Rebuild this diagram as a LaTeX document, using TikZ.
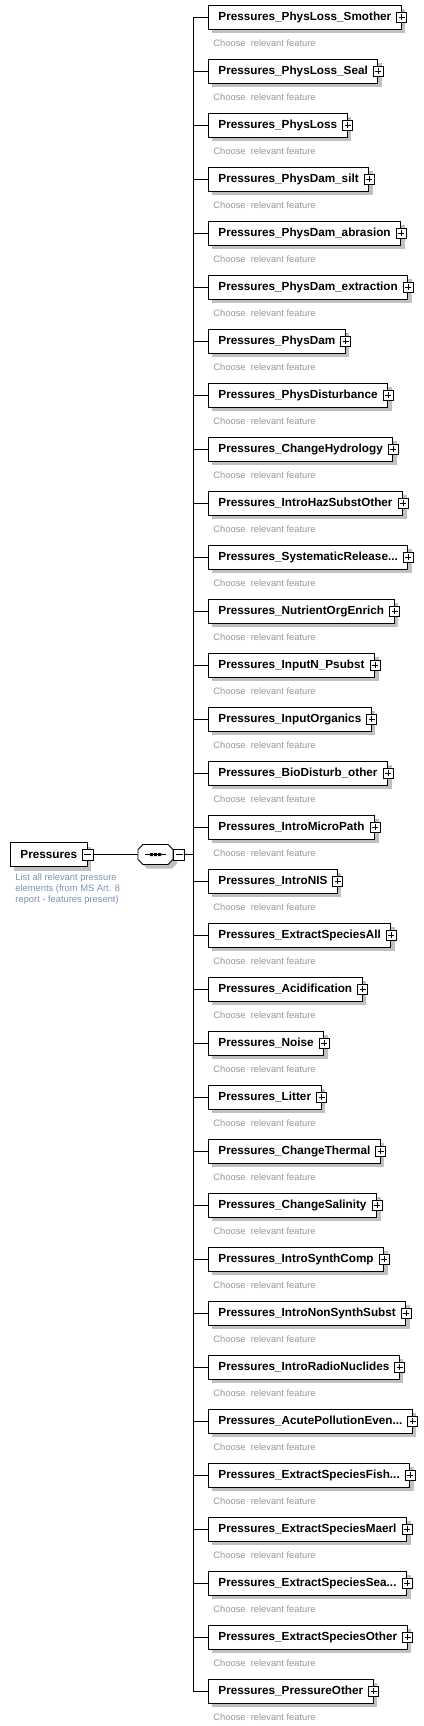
\documentclass[tikz,border=0pt]{standalone}
\usepackage{fontspec}
\setmainfont{Liberation Sans}
\usetikzlibrary{shadows}

\definecolor{docGray}{RGB}{150,150,150}
\definecolor{descBlue}{RGB}{125,145,180}
\definecolor{shadowGray}{RGB}{192,192,192}

\tikzstyle{elemNode} = [rectangle, anchor=west, minimum height=18pt, inner xsep=7.5pt, inner ysep=0pt, draw=black, fill=white, font=\bfseries\fontsize{8.8}{10}\selectfont, drop shadow={shadow xshift=3pt, shadow yshift=-3pt, fill=shadowGray, opacity=1}]
\tikzstyle{expandBox} = [rectangle, minimum size=7.5pt, inner sep=0pt, draw=black, fill=white, path picture={\draw ([yshift=-1.5pt]path picture bounding box.north) -- ([yshift=1.5pt]path picture bounding box.south) ([xshift=1.5pt]path picture bounding box.west) -- ([xshift=-1.5pt]path picture bounding box.east);}]
\tikzstyle{collapseBox} = [rectangle, minimum size=8.25pt, inner sep=0pt, draw=black, fill=white, path picture={\draw ([xshift=1.5pt]path picture bounding box.west) -- ([xshift=-1.5pt]path picture bounding box.east);}]
\tikzstyle{seqNode} = [rectangle, minimum width=26.25pt, minimum height=15pt, inner sep=0pt]
\tikzstyle{docText} = [anchor=west, inner sep=0pt, text=docGray, font=\fontsize{7}{8}\selectfont]
\tikzstyle{descText} = [anchor=north west, inner sep=0pt, align=left, text=descBlue, font=\fontsize{7}{8.25}\selectfont]
\tikzstyle{connector} = [draw=black]

\begin{document}
\begin{tikzpicture}[x=0.75pt,y=-0.75pt,line width=0.7pt]
    \useasboundingbox (0,0) rectangle (424,1726);

    % root element
    \node (pressures)[elemNode] at (10,854.5) {Pressures};
    \node (pressuresMinus)[collapseBox] at (pressures.east) {};
    \node (pressuresDesc)[descText] at (15,873) {List all relevant pressure\\elements (from MS Art. 8\\report - features present)};

    % sequence compositor
    \begin{scope}[shift={(155.5,854.5)}]
        \fill [shadowGray] (-8.5,-6) -- (16.5,-6) -- (21.5,-1) -- (21.5,9) -- (16.5,14) -- (-8.5,14) -- (-13.5,9) -- (-13.5,-1) -- cycle;
        \draw [fill=white] (-12.5,-10) -- (12.5,-10) -- (17.5,-5) -- (17.5,5) -- (12.5,10) -- (-12.5,10) -- (-17.5,5) -- (-17.5,-5) -- cycle;
        \draw (-10.5,0) -- (10.5,0);
        \fill (-5.5,-1.5) rectangle (-2.5,1.5) (-1.5,-1.5) rectangle (1.5,1.5) (2.5,-1.5) rectangle (5.5,1.5);
    \end{scope}
    \node (seq)[seqNode] at (155.5,854.5) {};
    \node (seqMinus)[collapseBox] at (179,854.5) {};

    \coordinate (fork) at (193,854.5);
    \draw [connector] (pressuresMinus.east) -- (seq.west);
    \draw [connector] (seqMinus.east) -- (fork);

    % child elements
    \foreach \elemName/\elemText [count=\i from 0] in {
        physLossSmother/{Pressures\_PhysLoss\_Smother},
        physLossSeal/{Pressures\_PhysLoss\_Seal},
        physLoss/{Pressures\_PhysLoss},
        physDamSilt/{Pressures\_PhysDam\_silt},
        physDamAbrasion/{Pressures\_PhysDam\_abrasion},
        physDamExtraction/{Pressures\_PhysDam\_extraction},
        physDam/{Pressures\_PhysDam},
        physDisturbance/{Pressures\_PhysDisturbance},
        changeHydrology/{Pressures\_ChangeHydrology},
        introHazSubstOther/{Pressures\_IntroHazSubstOther},
        systematicRelease/{Pressures\_SystematicRelease...},
        nutrientOrgEnrich/{Pressures\_NutrientOrgEnrich},
        inputNPsubst/{Pressures\_InputN\_Psubst},
        inputOrganics/{Pressures\_InputOrganics},
        bioDisturbOther/{Pressures\_BioDisturb\_other},
        introMicroPath/{Pressures\_IntroMicroPath},
        introNIS/{Pressures\_IntroNIS},
        extractSpeciesAll/{Pressures\_ExtractSpeciesAll},
        acidification/{Pressures\_Acidification},
        noise/{Pressures\_Noise},
        litter/{Pressures\_Litter},
        changeThermal/{Pressures\_ChangeThermal},
        changeSalinity/{Pressures\_ChangeSalinity},
        introSynthComp/{Pressures\_IntroSynthComp},
        introNonSynthSubst/{Pressures\_IntroNonSynthSubst},
        introRadioNuclides/{Pressures\_IntroRadioNuclides},
        acutePollutionEven/{Pressures\_AcutePollutionEven...},
        extractSpeciesFish/{Pressures\_ExtractSpeciesFish...},
        extractSpeciesMaerl/{Pressures\_ExtractSpeciesMaerl},
        extractSpeciesSea/{Pressures\_ExtractSpeciesSea...},
        extractSpeciesOther/{Pressures\_ExtractSpeciesOther},
        pressureOther/{Pressures\_PressureOther}}
    {
        \node (\elemName)[elemNode] at (208,{17+54*\i}) {\elemText};
        \node (\elemName Plus)[expandBox] at (\elemName.east) {};
        \node (\elemName Doc)[docText] at ([xshift=3.75pt,yshift=-10pt]\elemName.south west) {Choose\ \ relevant feature};
        \draw [connector] (fork) |- (\elemName.west);
    }
\end{tikzpicture}
\end{document}
